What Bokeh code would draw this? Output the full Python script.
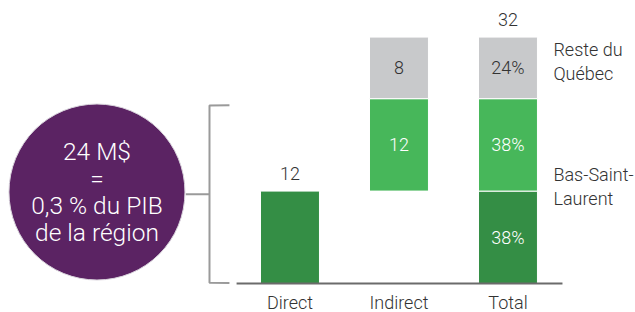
from bokeh.plotting import figure
from bokeh.models import ColumnDataSource
from bokeh.core.properties import value
from bokeh.embed import file_html
from bokeh.resources import INLINE

# ---- data ----
categories = ["Direct", "Indirect", "Total"]
region_vals = [12, 12, 24]        # Bas-Saint-Laurent part (Direct, Indirect, Total)
rest_vals = [0, 8, 8]             # Reste du Québec part
total_label = 32
total_shares = ["38%", "38%", "24%"]   # dark, light, grey in Total bar
indirect_labels = ["12", "8"]
circle_lines = ["24 M$", "=", "0,3 % du PIB", "de la région"]
legend_labels = ["Reste du\nQuébec", "Bas-Saint-\nLaurent"]

DARK = "#348e45"
LIGHT = "#47b75a"
GREY = "#c8c9cb"
PURPLE = "#5b2363"
TXT = "#333333"
FONT = value("Roboto Light, Roboto")

W, H = 635, 312
p = figure(width=W, height=H, output_backend="svg", toolbar_location=None,
           x_range=(-2.656, 3.170), y_range=(-3.766, 36.75),
           min_border=0, outline_line_color=None)
p.axis.visible = False
p.grid.visible = False
p.background_fill_color = None
p.border_fill_color = None

xs = [0, 1, 2]
bw = 0.541

# segments
seg = dict(x=[], bottom=[], top=[], color=[])
# Direct
seg["x"].append(xs[0]); seg["bottom"].append(0); seg["top"].append(region_vals[0]); seg["color"].append(DARK)
# Indirect: floating light green, then grey
seg["x"].append(xs[1]); seg["bottom"].append(region_vals[0]); seg["top"].append(region_vals[0] + region_vals[1]); seg["color"].append(LIGHT)
seg["x"].append(xs[1]); seg["bottom"].append(region_vals[0] + region_vals[1]); seg["top"].append(region_vals[0] + region_vals[1] + rest_vals[1]); seg["color"].append(GREY)
# Total: dark, light, grey
seg["x"].append(xs[2]); seg["bottom"].append(0); seg["top"].append(region_vals[0]); seg["color"].append(DARK)
seg["x"].append(xs[2]); seg["bottom"].append(region_vals[0]); seg["top"].append(region_vals[2]); seg["color"].append(LIGHT)
seg["x"].append(xs[2]); seg["bottom"].append(region_vals[2]); seg["top"].append(region_vals[2] + rest_vals[2]); seg["color"].append(GREY)
src = ColumnDataSource(seg)
p.vbar(x="x", bottom="bottom", top="top", width=bw, fill_color="color",
       line_color="white", line_width=1, source=src)

# labels inside segments
mids = [(b + t) / 2 for b, t in zip(seg["bottom"], seg["top"])]
inside = dict(
    x=[xs[1], xs[1], xs[2], xs[2], xs[2]],
    y=[mids[1], mids[2], mids[3], mids[4], mids[5]],
    text=[indirect_labels[0], indirect_labels[1], total_shares[0], total_shares[1], total_shares[2]],
    color=["white", TXT, "white", "white", TXT],
)
p.text(x="x", y="y", text="text", text_color="color", source=ColumnDataSource(inside),
       text_align="center", text_baseline="middle", text_font_size="18px", text_font=FONT)

# labels above
p.text(x=[xs[0], xs[2]], y=[region_vals[0], total_label], text=[str(region_vals[0]), str(total_label)],
       y_offset=-18, text_color=TXT, text_align="center", text_baseline="middle",
       text_font_size="18px", text_font=FONT)

# baseline
p.segment(x0=[-0.49], y0=[0], x1=[2.5], y1=[0], line_color="#6b6b6b", line_width=2)

# category labels
p.text(x=xs, y=[0, 0, 0], text=categories, y_offset=19, text_color=TXT,
       text_align="center", text_baseline="middle", text_font_size="18px", text_font=FONT)

# legend-like labels at right
p.text(x=[2.417, 2.417], y=[mids[5], region_vals[0]], text=legend_labels, y_offset=[-6, -5],
       text_color=TXT, text_align="left", text_baseline="middle", text_font_size="18px",
       text_font=FONT, text_line_height=1.14)

# circle
cx, cy = -1.771, 11.88
p.scatter(x=[cx], y=[cy], size=176, marker="circle", fill_color=PURPLE, line_color="#d9d4dc", line_width=1)
p.text(x=[cx], y=[cy], text=["\n".join(circle_lines)], text_color="white", text_align="center",
       text_baseline="middle", text_font_size="24.5px", text_font=FONT, text_line_height=0.93)

# bracket
bx = -0.7385
btop = 23.1
p.line(x=[bx + 0.183, bx, bx, bx + 0.183], y=[btop + 0.05, btop, 0.1, 0.05], line_color="#9a9a9a", line_width=2)
p.segment(x0=[cx + 0.815], y0=[cy - 0.3], x1=[bx], y1=[cy - 0.3], line_color="#9a9a9a", line_width=2)

open("out.html", "w").write(file_html(p, INLINE))
